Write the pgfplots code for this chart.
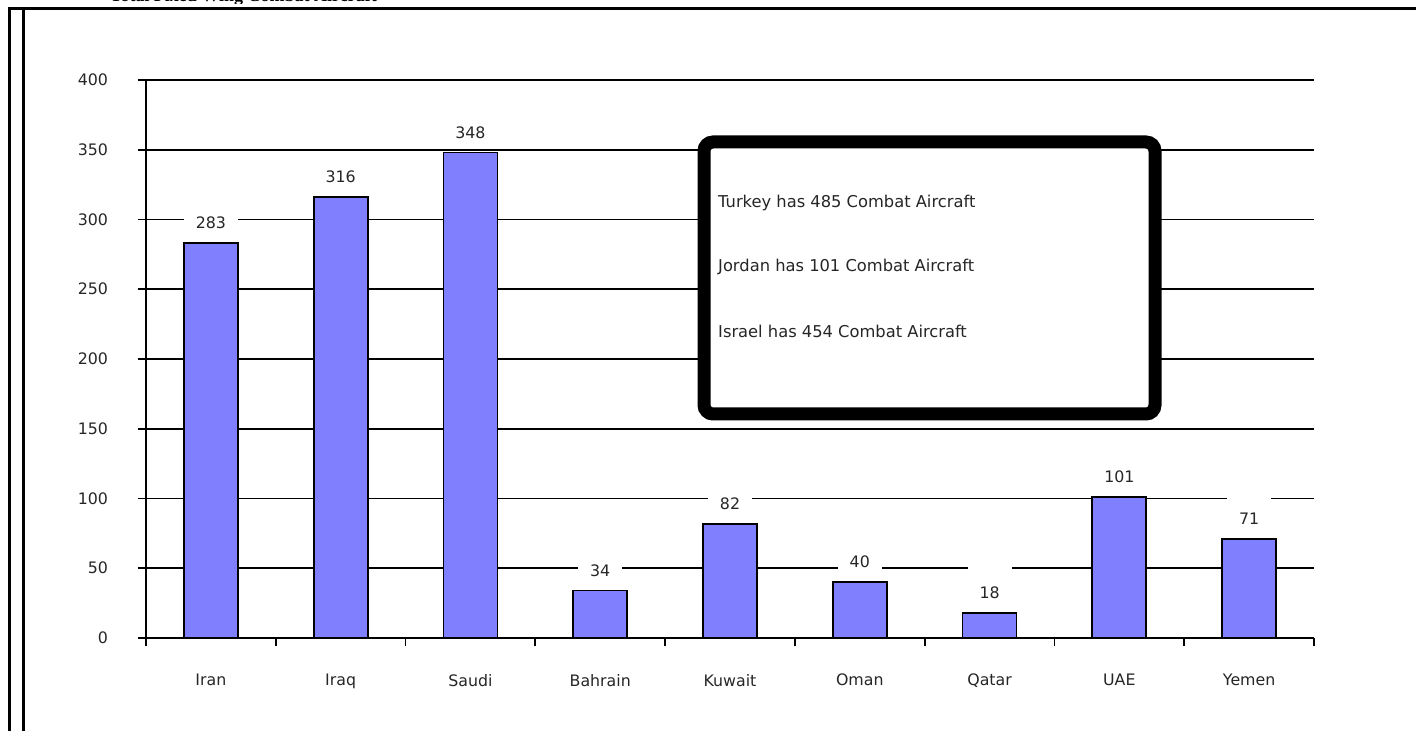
\documentclass[border=0pt]{standalone}
\usepackage{fontspec}
\setmainfont{DejaVu Sans}
\newfontfamily\titlefont{Liberation Serif}
\usepackage{pgfplots}
\pgfplotsset{compat=1.18}
\definecolor{barblue}{HTML}{8080FF}
\pgfplotstableread{
x val
1 283
2 316
3 348
4 34
5 82
6 40
7 18
8 101
9 71
}\aircraft
\begin{document}
\begin{tikzpicture}[x=1bp,y=1bp]
\path[use as bounding box] (0,0) rectangle (1423,731);
% clipped title at the very top
\begin{scope}
\clip (0,727) rectangle (1423,731);
\node[anchor=base east, inner sep=0pt, font=\titlefont\bfseries\fontsize{18bp}{20bp}\selectfont] at (377,729) {Total Fixed Wing Combat Aircraft};
\end{scope}
% frame
\draw[line width=3.6bp] (8,722.5) -- (1416,722.5);
\draw[line width=2.8bp] (9.7,0) -- (9.7,724.3);
\draw[line width=3.2bp] (23.4,0) -- (23.4,721);
\begin{axis}[
  at={(146bp,93bp)}, anchor=south west,
  scale only axis, width=1168bp, height=558bp,
  xmin=0.5, xmax=9.5, ymin=0, ymax=400,
  axis x line*=bottom, axis y line*=left,
  axis line style={line width=1.7bp, black, -},
  /pgf/number format/assume math mode=true,
  tick label style={font=\fontsize{15.8bp}{18bp}\selectfont, text=black!85},
  ytick={0,50,...,400},
  xtick={0.5,1.5,...,9.5}, xticklabels={},
  extra x ticks={1,2,3,4,5,6,7,8,9},
  extra x tick labels={Iran,Iraq,Saudi,Bahrain,Kuwait,Oman,Qatar,UAE,Yemen},
  extra x tick style={tick style={draw=none}, xticklabel style={yshift=-24bp}},
  tick align=outside, major tick length=8.5bp,
  tick style={line width=1.7bp, black},
  ymajorgrids, grid style={line width=1.7bp, black},
  yticklabel style={xshift=-26bp},
  ybar, bar width=54bp, bar shift=0pt,
  nodes near coords={\raisebox{0pt}[31bp][8bp]{\pgfmathprintnumber{\pgfplotspointmeta}}},
  every node near coord/.append style={anchor=base, yshift=14.4bp, fill=white, inner ysep=0pt, inner xsep=12bp, font=\fontsize{15.8bp}{18bp}\selectfont, text=black!85},
]
\addplot[fill=barblue, draw=black, line width=1.8bp] table[x=x,y=val]{\aircraft};
\end{axis}
% callout box
\draw[line width=13bp, rounded corners=9bp, fill=white] (704,589) rectangle (1155,317);
\begin{scope}[every node/.style={anchor=west, inner sep=0pt, font=\fontsize{16.3bp}{18bp}\selectfont, text=black!85}]
\node at (718,528) {Turkey has 485 Combat Aircraft};
\node at (718,464) {Jordan has 101 Combat Aircraft};
\node at (718,400) {Israel has 454 Combat Aircraft};
\end{scope}
\end{tikzpicture}
\end{document}
